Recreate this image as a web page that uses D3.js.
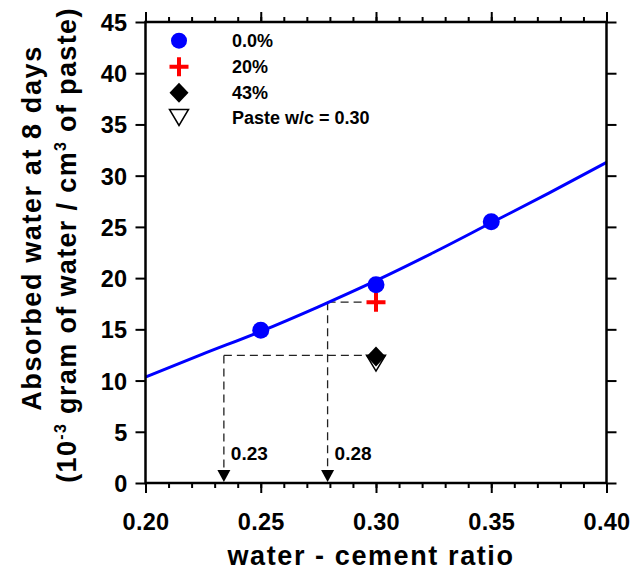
<!DOCTYPE html>
<html>
<head>
<meta charset="utf-8">
<script src="https://cdn.jsdelivr.net/npm/d3@7"></script>
<style>
  body { margin: 0; background: #fff; }
  text { font-family: "Liberation Sans", Arial, sans-serif; font-weight: bold; fill: #000; }
</style>
</head>
<body>
<div id="chart"></div>
<script>
// fitted curve
const curveWC = [0.20, 0.225, 0.25, 0.275, 0.30, 0.325, 0.35, 0.375, 0.40]
const curveAbs = [10.35, 12.6, 14.8, 17.2, 19.75, 22.5, 25.4, 28.3, 31.3]

// measured points
const wc00 = [0.25, 0.30, 0.35]
const abs00 = [14.9, 19.35, 25.5]
const wc20 = [0.30]
const abs20 = [17.65]
const wc43 = [0.30]
const abs43 = [12.35]
const wcPaste = [0.30]
const absPaste = [11.7]

// equivalent w/c read-off lines
const equivWC = [0.234, 0.279]
const equivAbs = [12.45, 17.65]
const equivLabels = ["0.23", "0.28"]

const legendLabels = ["0.0%", "20%", "43%", "Paste w/c = 0.30"]
const xTicks = [0.20, 0.25, 0.30, 0.35, 0.40]
const yTicks = [0, 5, 10, 15, 20, 25, 30, 35, 40, 45]

const w = 632
const h = 571

const svg = d3.select("#chart").append("svg")
  .attr("width", w)
  .attr("height", h)

const x = d3.scaleLinear().domain([0.2, 0.4]).range([145.5, 606.5])
const y = d3.scaleLinear().domain([0, 45]).range([483, 22])

// dashed guide lines
const guides = svg.append("g")
  .attr("fill", "none")
  .attr("stroke", "#222")
  .attr("stroke-width", 1.3)
  .attr("stroke-dasharray", "8,5")

equivWC.forEach((v, i) => {
  guides.append("line")
    .attr("x1", x(v)).attr("x2", x(0.30) - 12)
    .attr("y1", y(equivAbs[i])).attr("y2", y(equivAbs[i]))
  guides.append("line")
    .attr("x1", x(v)).attr("x2", x(v))
    .attr("y1", y(equivAbs[i])).attr("y2", y(0) - 10)
})

svg.selectAll(".arrow")
  .data(equivWC)
  .enter()
  .append("path")
  .attr("class", "arrow")
  .attr("d", "M-6.5,-12L6.5,-12L0,0Z")
  .attr("transform", (d) => `translate(${x(d)},${y(0) - 1})`)
  .attr("fill", "#000")

svg.selectAll(".equiv-label")
  .data(equivLabels)
  .enter()
  .append("text")
  .attr("class", "equiv-label")
  .attr("x", (d, i) => x(equivWC[i]) + 7)
  .attr("y", 460)
  .attr("font-size", 19)
  .text((d) => d)

// curve
const line = d3.line()
  .x((d) => x(d[0]))
  .y((d) => y(d[1]))
  .curve(d3.curveMonotoneX)

svg.append("path")
  .datum(curveWC.map((v, i) => [v, curveAbs[i]]))
  .attr("d", line)
  .attr("fill", "none")
  .attr("stroke", "#0000ff")
  .attr("stroke-width", 3)

// symbols
const triPath = "M-9.5,-8L9.5,-8L0,8Z"
const diaPath = "M0,-10L9.5,0L0,10L-9.5,0Z"
const crossPath = "M-9.5,-2L-2,-2L-2,-9.5L2,-9.5L2,-2L9.5,-2L9.5,2L2,2L2,9.5L-2,9.5L-2,2L-9.5,2Z"

svg.selectAll(".paste")
  .data(wcPaste)
  .enter()
  .append("path")
  .attr("class", "paste")
  .attr("d", triPath)
  .attr("transform", (d, i) => `translate(${x(d)},${y(absPaste[i])})`)
  .attr("fill", "#fff")
  .attr("stroke", "#000")
  .attr("stroke-width", 1.5)

svg.selectAll(".p43")
  .data(wc43)
  .enter()
  .append("path")
  .attr("class", "p43")
  .attr("d", diaPath)
  .attr("transform", (d, i) => `translate(${x(d)},${y(abs43[i])})`)
  .attr("fill", "#000")

svg.selectAll(".p20")
  .data(wc20)
  .enter()
  .append("path")
  .attr("class", "p20")
  .attr("d", crossPath)
  .attr("transform", (d, i) => `translate(${x(d)},${y(abs20[i])})`)
  .attr("fill", "#ff0000")

svg.selectAll(".p00")
  .data(wc00)
  .enter()
  .append("circle")
  .attr("class", "p00")
  .attr("cx", (d) => x(d))
  .attr("cy", (d, i) => y(abs00[i]))
  .attr("r", 8.5)
  .attr("fill", "#0000ff")

// legend
const legend = svg.append("g").attr("id", "legend")
const legY = [40.7, 66.7, 92.7, 117.5]
legend.append("circle").attr("cx", 179).attr("cy", legY[0]).attr("r", 8).attr("fill", "#0000ff")
legend.append("path").attr("d", crossPath).attr("transform", `translate(179,${legY[1]})`).attr("fill", "#ff0000")
legend.append("path").attr("d", diaPath).attr("transform", `translate(179,${legY[2]})`).attr("fill", "#000")
legend.append("path").attr("d", triPath).attr("transform", `translate(179,${legY[3]})`)
  .attr("fill", "#fff").attr("stroke", "#000").attr("stroke-width", 1.5)

legend.selectAll("text")
  .data(legendLabels)
  .enter()
  .append("text")
  .attr("x", 232)
  .attr("y", (d, i) => legY[i] + 6.5)
  .attr("font-size", 18)
  .text((d) => d)

// axes
const minorX = x.ticks(20)

const axBottom = svg.append("g").attr("transform", `translate(0,${y(0)})`)
  .call(d3.axisBottom(x).tickValues(xTicks).tickSize(10).tickPadding(20).tickFormat(d3.format(".2f")))
axBottom.append("g").call(d3.axisBottom(x).tickValues(minorX).tickSize(5).tickFormat(""))

const axTop = svg.append("g").attr("transform", `translate(0,${y(45)})`)
  .call(d3.axisTop(x).tickValues(xTicks).tickSize(10).tickFormat(""))
axTop.append("g").call(d3.axisTop(x).tickValues(minorX).tickSize(5).tickFormat(""))

const axLeft = svg.append("g").attr("transform", `translate(${x(0.2)},0)`)
  .call(d3.axisLeft(y).tickValues(yTicks).tickSize(10).tickPadding(8))

const axRight = svg.append("g").attr("transform", `translate(${x(0.4)},0)`)
  .call(d3.axisRight(y).tickValues(yTicks).tickSize(10).tickFormat(""))

svg.selectAll(".domain").remove()
svg.selectAll(".tick line").attr("stroke", "#000").attr("stroke-width", 2)
svg.selectAll(".tick text")
  .attr("font-size", 23.5)
  .attr("font-family", "'Liberation Sans', Arial, sans-serif")
  .attr("font-weight", "bold")
  .attr("letter-spacing", 0.3)
  .attr("fill", "#000")
axLeft.selectAll(".tick text").attr("dy", "0.36em")

svg.append("rect")
  .attr("x", x(0.2)).attr("y", y(45))
  .attr("width", x(0.4) - x(0.2)).attr("height", y(0) - y(45))
  .attr("fill", "none")
  .attr("stroke", "#000")
  .attr("stroke-width", 2.5)

// axis titles
svg.append("text")
  .attr("x", 371)
  .attr("y", 565)
  .attr("text-anchor", "middle")
  .attr("font-size", 27)
  .attr("letter-spacing", 1.6)
  .text("water - cement ratio")

svg.append("text")
  .attr("transform", "translate(41,228) rotate(-90)")
  .attr("text-anchor", "middle")
  .attr("font-size", 27)
  .attr("letter-spacing", 1.6)
  .text("Absorbed water at 8 days")

const yt2 = svg.append("text")
  .attr("transform", "translate(76,245) rotate(-90)")
  .attr("text-anchor", "middle")
  .attr("font-size", 27)
  .attr("letter-spacing", 1.35)
yt2.append("tspan").text("(10")
yt2.append("tspan").attr("font-size", 16).attr("dy", -10).text("-3")
yt2.append("tspan").attr("dy", 10).text(" gram of water / cm")
yt2.append("tspan").attr("font-size", 16).attr("dy", -10).text("3")
yt2.append("tspan").attr("dy", 10).text(" of paste)")
</script>
</body>
</html>
